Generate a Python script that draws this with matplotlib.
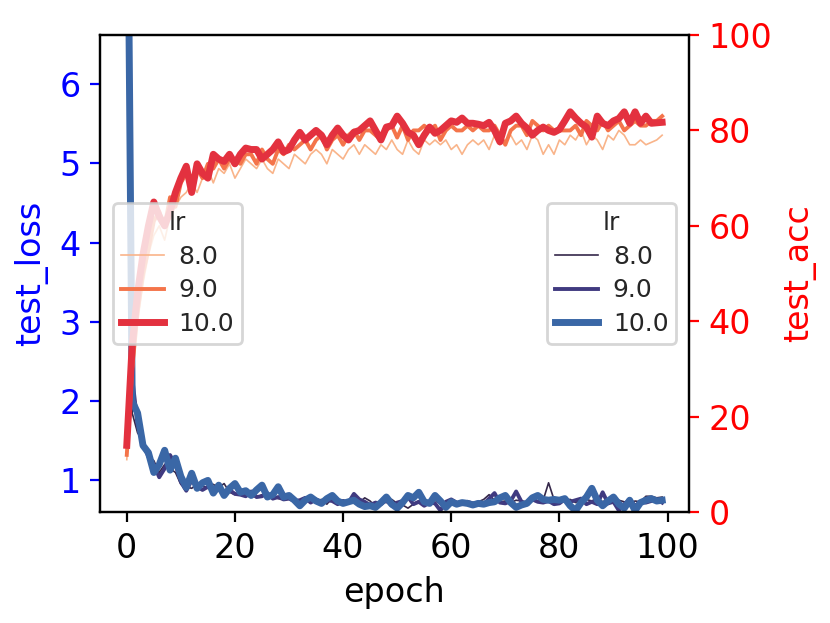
import numpy as np
import matplotlib
matplotlib.use('Agg')
import matplotlib.pyplot as plt

#================ data ================
lr_levels = ['8.0', '9.0', '10.0']
epochs = np.arange(100)

loss_8 = [8.5, 1.85, 1.6, 1.5, 1.3, 1.25, 1.1, 1.2, 1.15, 1.1,
          0.95, 0.92, 0.9, 0.95, 0.93, 0.9, 0.95, 0.91, 0.96, 0.85,
          0.82, 0.84, 0.8, 0.8, 0.79, 0.82, 0.78, 0.8, 0.77, 0.76,
          0.79, 0.74, 0.72, 0.73, 0.78, 0.74, 0.76, 0.7, 0.78, 0.73,
          0.75, 0.73, 0.74, 0.72, 0.78, 0.74, 0.67, 0.74, 0.72, 0.76,
          0.71, 0.69, 0.65, 0.7, 0.74, 0.73, 0.71, 0.75, 0.7, 0.72,
          0.74, 0.71, 0.73, 0.72, 0.71, 0.73, 0.76, 0.82, 0.75, 0.73,
          0.74, 0.72, 0.75, 0.74, 0.73, 0.76, 0.74, 0.75, 0.97, 0.76,
          0.74, 0.75, 0.76, 0.72, 0.77, 0.76, 0.74, 0.78, 0.73, 0.76,
          0.74, 0.75, 0.73, 0.71, 0.74, 0.73, 0.8, 0.8, 0.78, 0.79]
loss_9 = [9.5, 2.3, 1.7, 1.45, 1.3, 1.2, 1.04, 1.15, 1.32, 1.2,
          0.98, 0.87, 1.0, 0.92, 0.88, 0.92, 0.9, 0.93, 0.85, 0.88,
          0.83, 0.82, 0.8, 0.86, 0.79, 0.8, 0.84, 0.77, 0.79, 0.76,
          0.77, 0.74, 0.75, 0.78, 0.72, 0.76, 0.73, 0.75, 0.74, 0.7,
          0.74, 0.72, 0.83, 0.76, 0.73, 0.69, 0.72, 0.7, 0.75, 0.68,
          0.72, 0.74, 0.79, 0.7, 0.73, 0.68, 0.72, 0.71, 0.62, 0.73,
          0.76, 0.72, 0.7, 0.73, 0.71, 0.72, 0.7, 0.77, 0.84, 0.72,
          0.71, 0.74, 0.86, 0.73, 0.7, 0.76, 0.73, 0.72, 0.74, 0.7,
          0.71, 0.76, 0.73, 0.75, 0.77, 0.7, 0.73, 0.7, 0.85, 0.71,
          0.73, 0.62, 0.7, 0.76, 0.68, 0.73, 0.72, 0.74, 0.76, 0.72]
loss_10 = [10.0, 2.0, 1.85, 1.44, 1.35, 1.1, 1.2, 1.38, 1.13, 1.28,
           1.05, 0.91, 1.09, 0.9, 0.97, 1.0, 0.84, 0.94, 0.81, 0.9,
           0.96, 0.85, 0.87, 0.81, 0.88, 0.94, 0.79, 0.82, 0.92, 0.79,
           0.81, 0.75, 0.68, 0.75, 0.79, 0.74, 0.71, 0.77, 0.81, 0.74,
           0.71, 0.73, 0.75, 0.7, 0.67, 0.68, 0.66, 0.72, 0.79, 0.7,
           0.65, 0.72, 0.81, 0.78, 0.85, 0.73, 0.71, 0.81, 0.74, 0.66,
           0.73, 0.7, 0.72, 0.71, 0.69, 0.71, 0.7, 0.72, 0.73, 0.78,
           0.81, 0.72, 0.66, 0.69, 0.71, 0.78, 0.81, 0.76, 0.75, 0.76,
           0.75, 0.77, 0.68, 0.62, 0.72, 0.79, 0.9, 0.75, 0.68, 0.74,
           0.79, 0.7, 0.65, 0.75, 0.62, 0.72, 0.75, 0.77, 0.74, 0.75]

acc_8 = [11, 28, 40, 48, 54, 58, 60, 57, 62, 64,
         66, 67, 69, 67, 70, 72, 69, 72, 71, 73,
         70, 72, 74, 73, 72, 74, 72, 71, 74, 73,
         72, 75, 74, 73, 75, 76, 75, 73, 76, 75,
         74, 76, 77, 75, 77, 76, 75, 77, 76, 78,
         76, 75, 78, 76, 75, 78, 77, 78, 77, 78,
         76, 77, 75, 77, 78, 77, 78, 76, 79, 77,
         78, 79, 77, 78, 76, 79, 78, 75, 77, 75,
         78, 77, 79, 78, 80, 77, 79, 78, 76, 79,
         78, 80, 79, 77, 77, 78, 77, 77.5, 78, 79]
acc_9 = [12, 30, 42, 50, 55, 61, 63, 60, 66, 64,
         69, 71, 70, 72, 70, 73, 72, 74, 72, 74,
         74, 73, 75, 75, 73, 76, 74, 73, 76, 75,
         77, 76, 77, 78, 76, 78, 79, 76, 78, 79,
         77, 79, 80, 78, 80, 80, 79, 78, 80, 81,
         78.5, 81, 78, 80, 80, 81, 80, 81, 78, 80,
         81, 80, 80, 81, 80, 81, 80, 80, 81, 79,
         77, 80, 81, 81, 79, 82, 81, 80, 81, 80,
         80, 80, 80, 81, 79, 82, 81, 80, 82, 80,
         81, 82, 80, 81, 82, 81, 81, 82, 82, 83]
acc_10 = [14, 35, 46, 54, 60, 65, 62, 60, 63, 67,
          70, 72.5, 67, 73, 71, 70, 75, 74, 73.5, 75,
          73, 75, 76.3, 76, 76, 74, 75, 76, 77.6, 75.5,
          76, 78, 79.6, 78, 79, 80, 79, 77, 79, 80.5,
          79, 78, 79.6, 80, 81, 82, 80, 78, 80.7, 81,
          83, 81.5, 79.6, 79, 77, 79, 80.7, 79.4, 80, 81,
          82, 81.7, 82.6, 81.5, 81.5, 81.3, 81, 81.7, 80, 77.6,
          81.5, 82, 83, 81.5, 80.5, 79, 80, 80.7, 80, 79.6,
          80.2, 82, 83.9, 82.6, 81.5, 80.7, 78.6, 83, 81.5, 81,
          82, 82.5, 83.9, 81.5, 83.9, 81.5, 83, 81.5, 81.6, 81.7]

loss_series = [loss_8, loss_9, loss_10]
acc_series = [acc_8, acc_9, acc_10]

loss_colors = ['#35284a', '#403a80', '#3a67a6']
acc_colors = ['#f9b48a', '#f4744a', '#e3313f']
widths = [0.6, 1.4, 2.5]

#================ figure ================
plt.rcParams['font.family'] = 'DejaVu Sans'
fig = plt.figure(figsize=(4.15, 3.115), dpi=200)
ax1 = fig.add_axes([0.1205, 0.178, 0.7095, 0.7658])
ax2 = ax1.twinx()

for lv, y, c, w in zip(lr_levels, loss_series, loss_colors, widths):
    ax1.plot(epochs, y, color=c, lw=w, label=lv)
for lv, y, c, w in zip(lr_levels, acc_series, acc_colors, widths):
    ax2.plot(epochs, y, color=c, lw=w, label=lv)

ax1.set_xlim(-4.95, 103.95)
ax1.set_ylim(0.6, 6.62)
ax2.set_ylim(0, 100)
ax1.set_xticks([0, 20, 40, 60, 80, 100])
ax1.set_yticks([1, 2, 3, 4, 5, 6])
ax2.set_yticks([0, 20, 40, 60, 80, 100])

ax1.set_xlabel('epoch', fontsize=12)
ax1.set_ylabel('test_loss', fontsize=12, color='blue')
ax2.set_ylabel('test_acc', fontsize=12, color='red')
ax1.tick_params(axis='x', labelsize=12)
ax1.tick_params(axis='y', labelsize=12, colors='blue')
ax2.tick_params(axis='y', labelsize=12, colors='red')

# legends: loss on the right, acc on the left
leg_kw = dict(title='lr', fontsize=9, title_fontsize=9, handlelength=1.72,
              handletextpad=0.6, borderpad=0.32, labelspacing=0.38,
              labelcolor='#262626')
leg1 = ax1.legend(loc='center right', **leg_kw)
leg2 = ax2.legend(loc='center left', **leg_kw)
for leg in (leg1, leg2):
    leg.get_title().set_color('#262626')

fig.savefig('out.png', dpi=200)
